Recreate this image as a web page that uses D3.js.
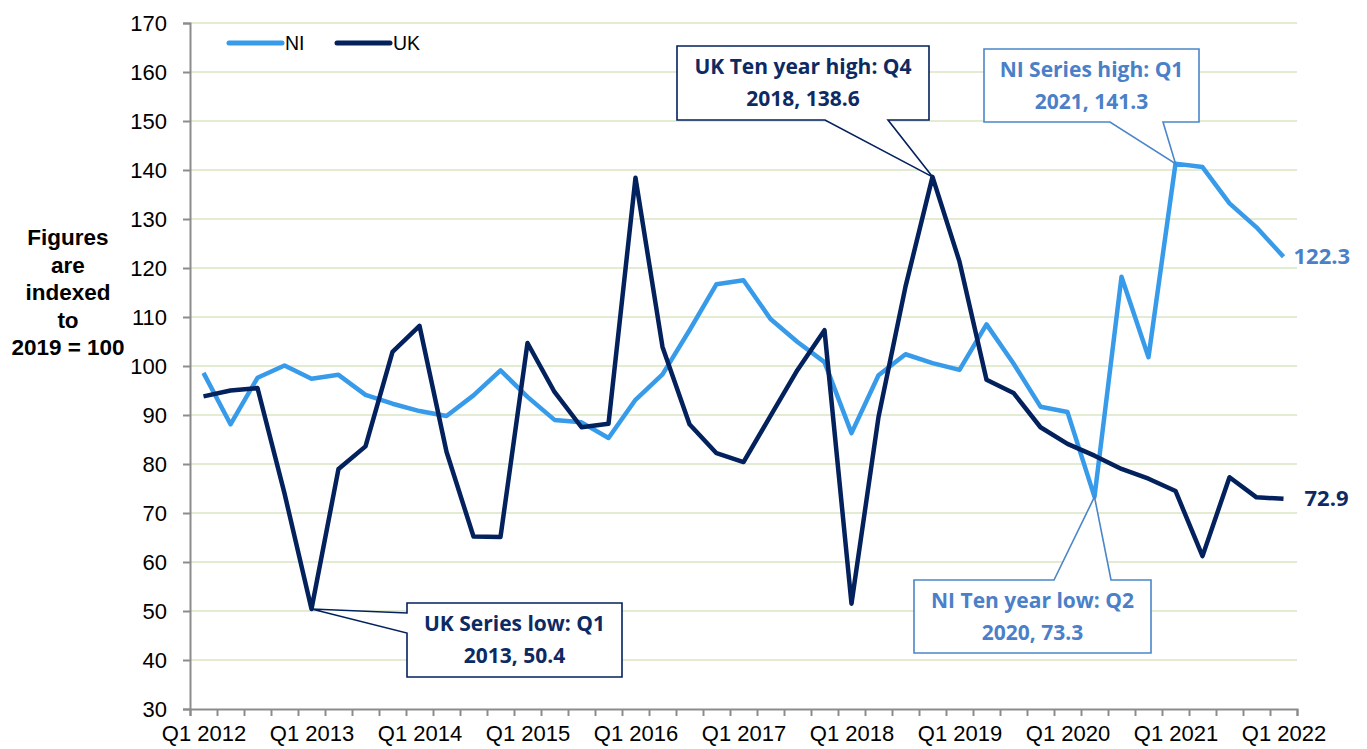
<!DOCTYPE html>
<html>
<head>
<meta charset="utf-8">
<script src="https://cdn.jsdelivr.net/npm/d3@7"></script>
<style>
  body { margin: 0; background: #fff; }
  svg { display: block; }
</style>
</head>
<body>
<svg id="chart" width="1367" height="749"></svg>
<script>
// categories: Q1 2012 .. Q1 2022
var years = [2012, 2013, 2014, 2015, 2016, 2017, 2018, 2019, 2020, 2021, 2022];
var quarterNames = ["Q1", "Q2", "Q3", "Q4"];
var categories = [];
years.forEach(function(yr) {
    quarterNames.forEach(function(q) {
        if (yr < 2022 || q == "Q1") categories.push(q + " " + yr);
    });
});

var yTicks = [30, 40, 50, 60, 70, 80, 90, 100, 110, 120, 130, 140, 150, 160, 170];

var niValues = [98.6, 88.1, 97.6, 100.1, 97.4, 98.2, 94.1, 92.3, 90.8, 89.8,
                94.0, 99.1, 93.7, 89.0, 88.5, 85.3, 93.1, 98.3, 107.3, 116.7,
                117.5, 109.6, 104.9, 100.8, 86.3, 98.1, 102.4, 100.6, 99.2, 108.5,
                100.5, 91.7, 90.6, 73.3, 118.2, 101.8, 141.3, 140.6, 133.2, 128.3,
                122.3];
var ukValues = [93.8, 95.0, 95.5, 74.0, 50.4, 79.0, 83.6, 102.9, 108.2, 82.5,
                65.2, 65.1, 104.7, 94.7, 87.5, 88.2, 138.4, 103.9, 88.1, 82.2,
                80.4, 89.8, 99.2, 107.3, 51.5, 89.6, 116.2, 138.6, 121.3, 97.2,
                94.5, 87.5, 84.1, 81.7, 79.0, 77.0, 74.5, 61.2, 77.3, 73.2,
                72.9];

var seriesNames = ["NI", "UK"];
var colors = { NI: "#379bea", UK: "#03215c" };
var noteColors = { NI: "#4a80c8", UK: "#0d2a63" };

// callouts: which point, and the text
var notes = [
    { name: "ukLow",  series: "UK", index: 4,  lines: ["UK Series low: Q1", "2013, 50.4"] },
    { name: "ukHigh", series: "UK", index: 27, lines: ["UK Ten year high: Q4", "2018, 138.6"] },
    { name: "niHigh", series: "NI", index: 36, lines: ["NI Series high: Q1", "2021, 141.3"] },
    { name: "niLow",  series: "NI", index: 33, lines: ["NI Ten year low: Q2", "2020, 73.3"] }
];

// box layout for the callouts (pointer side + base of the wedge)
var noteBoxes = {
    ukLow:  { x0: 407, y0: 603, x1: 622, y1: 677, side: "left",   p1: 613, p2: 633 },
    ukHigh: { x0: 677, y0: 46,  x1: 929, y1: 120, side: "bottom", p1: 825, p2: 888 },
    niHigh: { x0: 984, y0: 49,  x1: 1199, y1: 122, side: "bottom", p1: 1110, p2: 1163 },
    niLow:  { x0: 914, y0: 580, x1: 1151, y1: 653, side: "top",    p1: 1054, p2: 1111 }
};

var margin = {top: 23, right: 70, bottom: 40, left: 190},
    W = 1367, H = 749,
    plotRight = 1297,
    plotBottom = 709;

var svg = d3.select("#chart");

var x = d3.scalePoint().domain(d3.range(categories.length))
    .range([margin.left, plotRight]).padding(0.5);
var xb = d3.scaleLinear().domain([0, categories.length]).range([margin.left, plotRight]);
var y = d3.scaleLinear().domain([30, 170]).range([plotBottom, margin.top]);

// grid lines
svg.append("g").selectAll("line")
    .data(yTicks.filter(function(d) { return d > 30; }))
    .enter().append("line")
    .attr("x1", margin.left).attr("x2", plotRight)
    .attr("y1", function(d) { return y(d); })
    .attr("y2", function(d) { return y(d); })
    .attr("stroke", "#e3ebd2")
    .attr("stroke-width", 2);

// y axis
var yAxis = svg.append("g")
    .attr("transform", "translate(" + margin.left + ",0)")
    .call(d3.axisLeft(y).tickValues(yTicks).tickSize(7).tickPadding(16));
yAxis.selectAll("text")
    .style("font-family", "Liberation Sans, Arial, sans-serif")
    .style("font-size", "22px").attr("fill", "#000");

// x axis tick marks between categories
var xAxis = svg.append("g")
    .attr("transform", "translate(0," + plotBottom + ")")
    .call(d3.axisBottom(xb).tickValues(d3.range(categories.length + 1)).tickSize(7).tickFormat(""));

// x labels every 4 quarters
var xLab = svg.append("g")
    .attr("transform", "translate(0," + plotBottom + ")")
    .call(d3.axisBottom(x)
        .tickValues(d3.range(0, categories.length, 4))
        .tickSize(0).tickPadding(16)
        .tickFormat(function(i) { return categories[i]; }));
xLab.select(".domain").remove();
xLab.selectAll("text")
    .style("font-family", "Liberation Sans, Arial, sans-serif")
    .style("font-size", "22px").attr("fill", "#000");

svg.selectAll(".domain, .tick line").attr("stroke", "#8c8c8c").attr("stroke-width", 2);

// y title
var yTitle = ["Figures", "are", "indexed", "to", "2019 = 100"];
svg.append("g").selectAll("text")
    .data(yTitle).enter().append("text")
    .attr("x", 68)
    .attr("y", function(d, i) { return 245 + i * 27.5; })
    .attr("text-anchor", "middle")
    .style("font-family", "Liberation Sans, Arial, sans-serif")
    .style("font-size", "22.5px").style("font-weight", "bold")
    .text(function(d) { return d; });

// lines
var data = {
    NI: niValues,
    UK: ukValues
};
var line = d3.line()
    .x(function(d, i) { return x(i); })
    .y(function(d) { return y(d); });

seriesNames.forEach(function(s) {
    svg.append("path")
        .datum(data[s])
        .attr("fill", "none")
        .attr("stroke", colors[s])
        .attr("stroke-width", 4.5)
        .attr("stroke-linejoin", "round")
        .attr("d", line);
});

// end labels
seriesNames.forEach(function(s) {
    var last = data[s].length - 1;
    svg.append("text")
        .attr("x", x(last) + (s == "NI" ? 10 : 21))
        .attr("y", y(data[s][last]))
        .attr("dy", "0.35em")
        .attr("fill", noteColors[s])
        .style("font-family", "Open Sans, sans-serif")
        .style("font-size", "22px").style("font-weight", "bold")
        .text(data[s][last].toFixed(1));
});

// callouts
notes.forEach(function(n) {
    var b = noteBoxes[n.name];
    var tx = x(n.index), ty = y(data[n.series][n.index]);
    var p;
    if (b.side == "bottom") {
        p = "M" + b.x0 + "," + b.y0 + "H" + b.x1 + "V" + b.y1 + "H" + b.p2 +
            "L" + tx + "," + ty + "L" + b.p1 + "," + b.y1 + "H" + b.x0 + "Z";
    } else if (b.side == "top") {
        p = "M" + b.x0 + "," + b.y0 + "H" + b.p1 + "L" + tx + "," + ty +
            "L" + b.p2 + "," + b.y0 + "H" + b.x1 + "V" + b.y1 + "H" + b.x0 + "Z";
    } else {
        p = "M" + b.x0 + "," + b.y0 + "H" + b.x1 + "V" + b.y1 + "H" + b.x0 +
            "V" + b.p2 + "L" + tx + "," + ty + "L" + b.x0 + "," + b.p1 + "Z";
    }
    svg.append("path")
        .attr("d", p)
        .attr("fill", "#fff")
        .attr("stroke", n.series == "NI" ? "#4a86c8" : colors.UK)
        .attr("stroke-width", 1.6);
    var cx = (b.x0 + b.x1) / 2, cy = (b.y0 + b.y1) / 2;
    svg.append("g").selectAll("text")
        .data(n.lines).enter().append("text")
        .attr("x", cx)
        .attr("y", function(d, i) { return cy + (i - 0.5) * 32; })
        .attr("dy", "0.35em")
        .attr("text-anchor", "middle")
        .attr("fill", noteColors[n.series])
        .style("font-family", "Open Sans, sans-serif")
        .style("font-size", "21px").style("font-weight", "bold")
        .text(function(d) { return d; });
});

// legend
var legend = svg.append("g").selectAll("g")
    .data(seriesNames).enter().append("g")
    .attr("transform", function(d, i) { return "translate(" + (229 + i * 108) + ",43)"; });
legend.append("line")
    .attr("x1", 0).attr("x2", 53)
    .attr("stroke", function(d) { return colors[d]; })
    .attr("stroke-width", 5).attr("stroke-linecap", "round");
legend.append("text")
    .attr("x", 56).attr("dy", "0.35em")
    .style("font-family", "Liberation Sans, Arial, sans-serif")
    .style("font-size", "19.5px")
    .text(function(d) { return d; });
</script>
</body>
</html>
